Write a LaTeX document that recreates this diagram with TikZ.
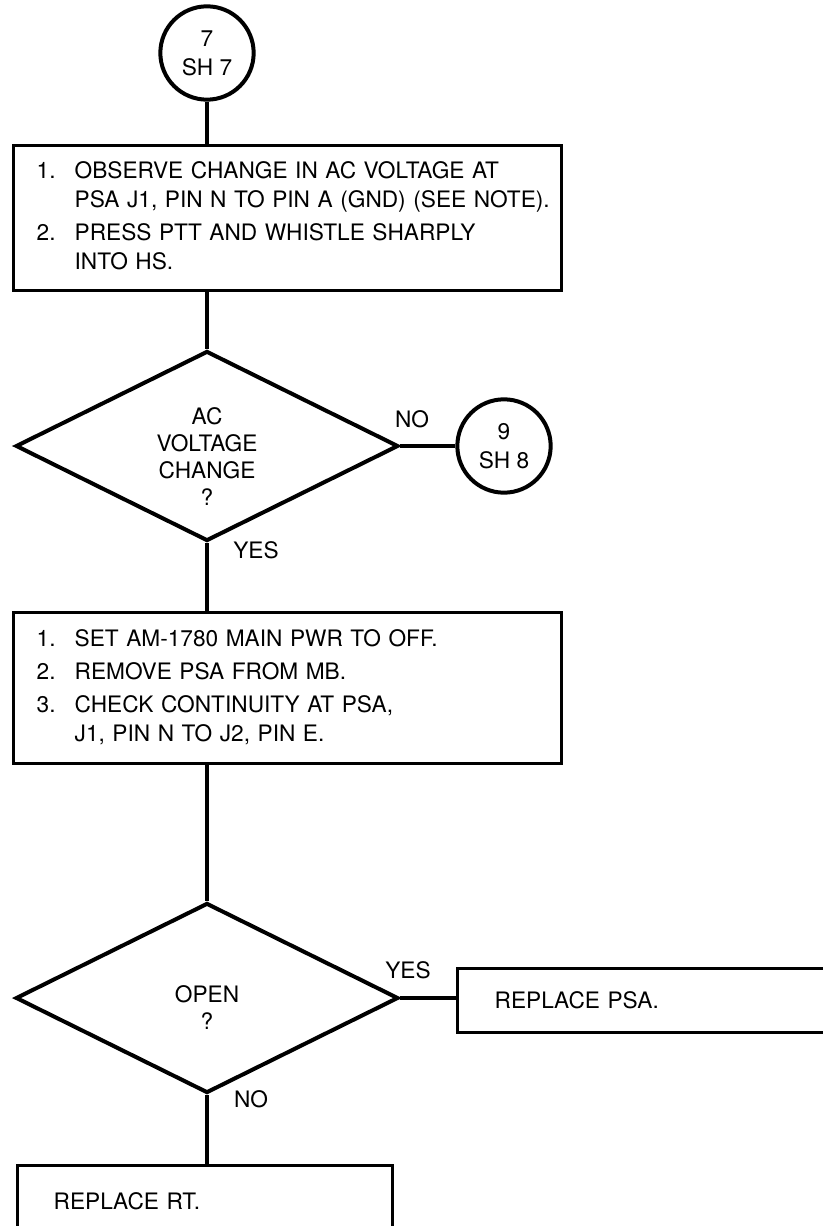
\documentclass[tikz,border=0pt]{standalone}
\usepackage{fontspec}
\setmainfont{TeX Gyre Heros}
\usetikzlibrary{shapes, positioning}

\tikzset{
  every node/.style={font=\fontsize{17}{21.75}\selectfont},
  conn/.style={line width=3pt},
  offpage/.style={draw, circle, line width=3pt, minimum size=70pt, inner sep=0pt, align=center},
  decision/.style={draw, diamond, line width=3pt, minimum width=287pt, minimum height=142.5pt, inner sep=0pt},
  asktext/.style={align=center, font=\fontsize{17}{20.25}\selectfont},
  stepbox/.style={draw, rectangle, line width=2.5pt, anchor=north west, align=left},
}

\begin{document}
\begin{tikzpicture}[x=0.75pt, y=-0.75pt]
          \useasboundingbox (0,0) rectangle (823,1226);

          % Nodes
          \node[offpage] (c7) at (207,53) {7\\SH 7};
          \node[stepbox, minimum height=108.75pt, text width=376.5pt, inner xsep=17.25pt] (obs) at (12,144)
            {\begin{tabular}{@{}p{28.5pt}@{}l@{}}
              1. & OBSERVE CHANGE IN AC VOLTAGE AT\\
                 & PSA J1, PIN N TO PIN A (GND) (SEE NOTE).\\[3pt]
              2. & PRESS PTT AND WHISTLE SHARPLY\\
                 & INTO HS.
            \end{tabular}};
          \node[decision] (q1) at (207,446) {};
          \node[asktext] (q1txt) at (207,457) {AC\\VOLTAGE\\CHANGE\\?};
          \node[offpage] (c9) at (504,446) {9\\SH 8};
          \node[stepbox, minimum height=113.25pt, text width=376.5pt, inner xsep=17.25pt] (chk) at (12,611)
            {\begin{tabular}{@{}p{28.5pt}@{}l@{}}
              1. & SET AM-1780 MAIN PWR TO OFF.\\[3pt]
              2. & REMOVE PSA FROM MB.\\[3pt]
              3. & CHECK CONTINUITY AT PSA,\\
                 & J1, PIN N TO J2, PIN E.
            \end{tabular}};
          \node[decision] (q2) at (207,998) {};
          \node[asktext] (q2txt) at (207,1008) {OPEN\\?};
          \node[stepbox, minimum height=48pt, text width=319.5pt, inner xsep=27.75pt] (psa) at (456,967) {REPLACE PSA.};
          \node[stepbox, minimum height=54pt, text width=227.25pt, inner xsep=27pt] (rt) at (16,1164) {REPLACE RT.};

          % Labels
          \node (no1) at (412,419) {NO};
          \node (yes1) at (256,550) {YES};
          \node (yes2) at (408,970) {YES};
          \node (no2) at (251,1099) {NO};

          % Edges
          \draw[conn] (c7.south) -- (c7.south |- obs.north);
          \draw[conn] (q1.north |- obs.south) -- (q1.north);
          \draw[conn] (q1.east) -- (c9.west);
          \draw[conn] (q1.south) -- (q1.south |- chk.north);
          \draw[conn] (q2.north |- chk.south) -- (q2.north);
          \draw[conn] (q2.east) -- (q2.east -| psa.west);
          \draw[conn] (q2.south) -- (q2.south |- rt.north);

        \end{tikzpicture}
\end{document}
